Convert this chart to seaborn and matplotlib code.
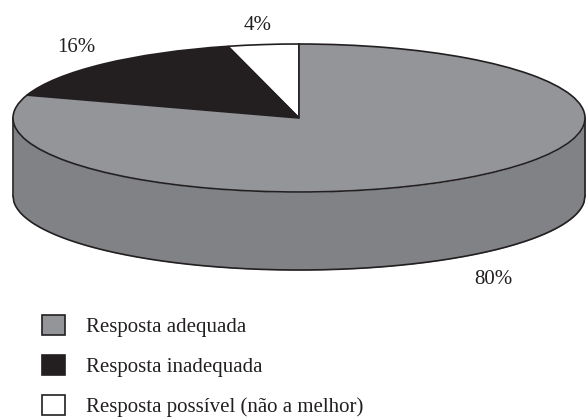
import numpy as np
import matplotlib
matplotlib.use("Agg")
import matplotlib.pyplot as plt
import seaborn as sns

categories = ["Resposta possível (não a melhor)", "Resposta inadequada", "Resposta adequada"]
shares = [4, 16, 80]
share_colors = ["#ffffff", "#231f20", "#939598"]

WALL = "#808285"
INK = "#231f20"
W, H = 586, 418
CX, CY = 299, 118   # centre of the top ellipse, in pixels
RX, RY = 286, 74
DEPTH = 78 / RY

sns.set_theme(style="white")
plt.rcParams["font.family"] = ["Liberation Serif", "DejaVu Serif"]

fig = plt.figure(figsize=(W / 100, H / 100), dpi=100)
ax = fig.add_axes([0, 0, 1, 1])

# side wall of the disc
t = np.linspace(-1, 1, 600)
rim = -np.sqrt(1 - t ** 2)
ax.fill_between(t, rim, rim - DEPTH, color=WALL, lw=0, zorder=1)
ax.plot(t, rim - DEPTH, color=INK, lw=1.2, zorder=2)
ax.plot([-1, -1], [0, -DEPTH], color=INK, lw=1.2, zorder=2)
ax.plot([1, 1], [0, -DEPTH], color=INK, lw=1.2, zorder=2)

# top face
wedges, _ = ax.pie(
    shares, colors=share_colors, startangle=90, radius=1, center=(0, 0),
    wedgeprops={"edgecolor": INK, "linewidth": 1.2, "zorder": 3},
)

# squash the circle into the ellipse, one axes unit = RX / RY pixels
ax.set_aspect("auto")
ax.set_xlim(-CX / RX, (W - CX) / RX)
ax.set_ylim((CY - H) / RY, CY / RY)
ax.axis("off")

# percentage labels
for v, (px, py) in zip(shares, [(258, 26), (76, 47), (493, 279)]):
    ax.text((px - CX) / RX, (CY - py) / RY, f"{v}%", ha="center", va="center",
            fontsize=15, color=INK, zorder=4)

order = [2, 1, 0]
leg = fig.legend(
    [wedges[i] for i in order], [categories[i] for i in order],
    loc="upper left", bbox_to_anchor=(42 / W, 1 - 315 / H), frameon=False,
    fontsize=15, labelcolor=INK, handlelength=1.1, handleheight=1.1,
    handletextpad=1.0, labelspacing=0.85, borderpad=0, borderaxespad=0,
)

fig.savefig("out.png", dpi=100)
